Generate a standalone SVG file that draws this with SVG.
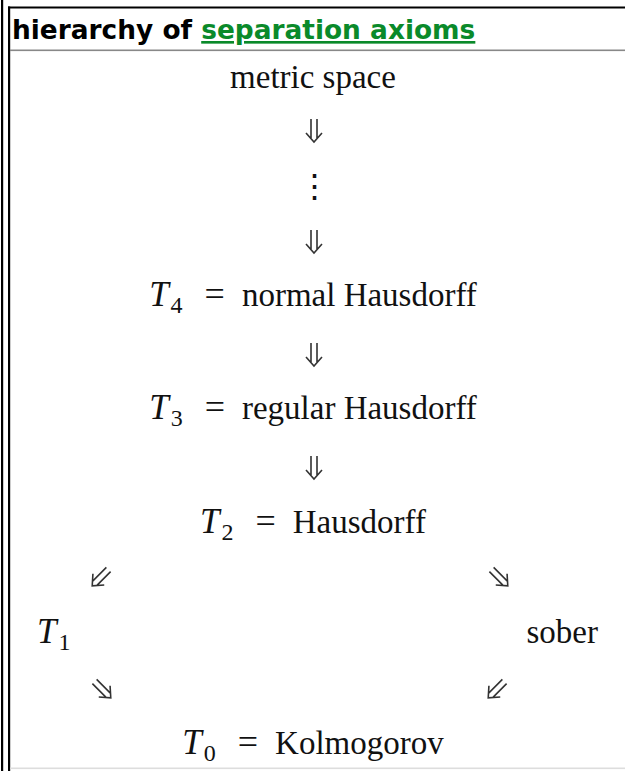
<svg xmlns="http://www.w3.org/2000/svg" width="625" height="771" viewBox="0 0 625 771">
<style>
.m{font-family:"Liberation Serif","Times New Roman",serif;font-size:33px;fill:#111;}
.it{font-style:italic;font-size:35px;}
.sub{font-size:24px;}
.eq{font-size:36px;}
.hd{font-family:"DejaVu Sans",Verdana,sans-serif;font-weight:bold;font-size:26.4px;fill:#000;}
.lnk{fill:#0a8a2a;text-decoration:underline;}
.arr{fill:none;stroke:#333;stroke-width:1.6;}
</style>
<defs>
<path id="dn" d="M-3,-12 V7 M3,-12 V7 M-8,2 L0,11 L8,2"/>
</defs>
<g id="frame">
<rect x="1" y="0" width="2.2" height="771" fill="#000"/>
<rect x="8" y="6.5" width="2.2" height="764.5" fill="#000"/>
<rect x="8" y="6.5" width="617" height="2" fill="#000"/>
<rect x="10" y="49.5" width="615" height="1.6" fill="#888"/>
<rect x="10" y="767.5" width="615" height="1.6" fill="#ddd"/>
</g>
<g id="header">
<text class="hd" x="12" y="39">hierarchy of <tspan class="lnk">separation axioms</tspan></text>
</g>
<g id="metric"><text class="m" x="313" y="88" text-anchor="middle">metric space</text></g>
<g id="dots"><text class="m" x="314" y="198" text-anchor="middle" font-size="30">⋮</text></g>
<g id="T4"><text class="m" x="313" y="306" text-anchor="middle"><tspan class="it">T</tspan><tspan class="sub" dx="2" dy="7">4</tspan><tspan class="eq" dx="22" dy="-7">=</tspan><tspan dx="17">normal Hausdorff</tspan></text></g>
<g id="T3"><text class="m" x="313" y="419" text-anchor="middle"><tspan class="it">T</tspan><tspan class="sub" dx="2" dy="7">3</tspan><tspan class="eq" dx="22" dy="-7">=</tspan><tspan dx="17">regular Hausdorff</tspan></text></g>
<g id="T2"><text class="m" x="313" y="533" text-anchor="middle"><tspan class="it">T</tspan><tspan class="sub" dx="2" dy="7">2</tspan><tspan class="eq" dx="22" dy="-7">=</tspan><tspan dx="17">Hausdorff</tspan></text></g>
<g id="T1"><text class="m" x="37" y="643"><tspan class="it">T</tspan><tspan class="sub" dx="2" dy="7">1</tspan></text></g>
<g id="sober"><text class="m" x="598" y="643" text-anchor="end">sober</text></g>
<g id="T0"><text class="m" x="313" y="754" text-anchor="middle"><tspan class="it">T</tspan><tspan class="sub" dx="2" dy="7">0</tspan><tspan class="eq" dx="22" dy="-7">=</tspan><tspan dx="17">Kolmogorov</tspan></text></g>
<g id="connectors" class="arr">
<use href="#dn" transform="translate(314,131)"/>
<use href="#dn" transform="translate(314,242)"/>
<use href="#dn" transform="translate(314,355)"/>
<use href="#dn" transform="translate(314,468)"/>
<use href="#dn" transform="translate(100,578) rotate(45)"/>
<use href="#dn" transform="translate(500,578) rotate(-45)"/>
<use href="#dn" transform="translate(103,690) rotate(-45)"/>
<use href="#dn" transform="translate(496,690) rotate(45)"/>
</g>
</svg>
